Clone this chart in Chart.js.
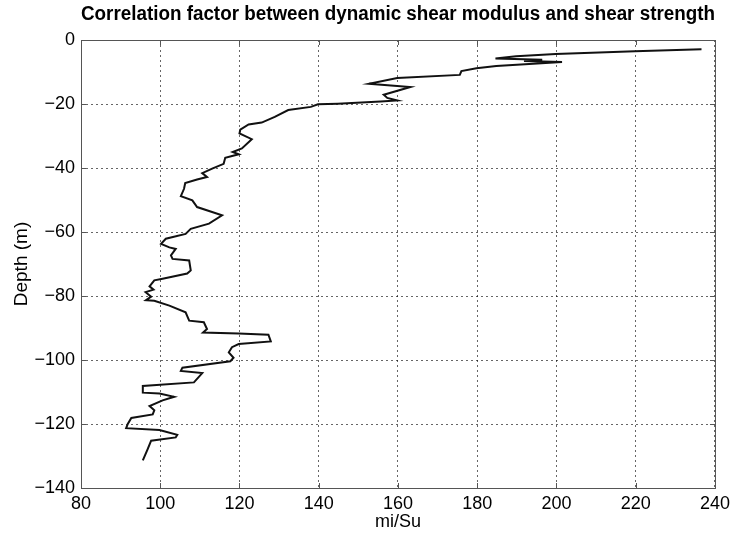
<!DOCTYPE html>
<html>
<head>
<meta charset="utf-8">
<script src="https://cdn.jsdelivr.net/npm/chart.js@4"></script>
<style>
  html, body { margin: 0; padding: 0; background: #fff; }
  #wrap { width: 735px; height: 533px; }
</style>
</head>
<body>
<div id="wrap"><canvas id="chart" width="735" height="533"></canvas></div>
<script>
// mi/Su values read along the profile, top to bottom
const ratio = [236.6, 219.8, 199.8, 189.8, 184.6, 196.4, 191.8, 201.4, 184.8, 179.8,
  176.0, 175.6, 159.8, 152.7, 163.1, 156.4, 157.3, 159.8, 155.6, 144.8,
  139.8, 138.0, 132.3, 128.9, 125.6, 122.3, 120.2, 120.0, 123.1, 120.6,
  118.3, 119.8, 116.4, 116.0, 113.1, 110.6, 111.8, 109.3, 106.3, 106.0,
  105.2, 108.1, 109.3, 115.6, 112.3, 107.7, 106.4, 101.4, 100.2, 102.3,
  103.9, 102.7, 103.1, 107.3, 107.7, 106.8, 100.6, 98.5, 97.3, 98.3,
  96.3, 97.7, 96.4, 98.5, 102.3, 106.4, 107.3, 111.0, 111.8, 110.8,
  119.8, 127.3, 127.9, 119.8, 118.1, 117.3, 118.5, 117.7, 105.6, 105.2,
  110.6, 108.5, 95.6, 95.6, 99.8, 103.5, 100.6, 97.3, 98.5, 98.1,
  92.7, 91.8, 91.4, 99.8, 104.3, 103.9, 97.7, 96.8, 95.6];

// depth (m) for each point above
const depth = [-2.9, -3.5, -4.4, -5.1, -5.8, -6.2, -6.6, -6.9, -8.1, -8.8,
  -9.7, -10.9, -11.9, -13.7, -14.7, -17.1, -18.1, -18.9, -19.2, -19.9,
  -20.1, -20.9, -21.9, -24.0, -25.8, -26.4, -28.0, -29.2, -31.0, -33.9,
  -35.0, -35.7, -36.8, -38.7, -40.2, -41.6, -42.8, -43.6, -44.7, -46.5,
  -48.8, -50.1, -52.2, -54.8, -57.4, -59.0, -60.6, -62.1, -63.7, -64.8,
  -65.3, -67.3, -68.4, -68.9, -72.0, -73.0, -74.6, -75.1, -77.0, -78.0,
  -78.8, -80.2, -81.3, -81.5, -83.0, -85.1, -87.7, -88.2, -90.3, -91.4,
  -91.7, -92.1, -94.2, -95.0, -96.0, -97.6, -99.3, -100.4, -102.4, -103.4,
  -104.1, -107.0, -108.1, -110.2, -110.5, -111.5, -112.6, -114.4, -115.7, -117.0,
  -118.1, -120.0, -121.3, -121.9, -123.4, -124.2, -125.2, -127.9, -131.4];

const xTicks = [80, 100, 120, 140, 160, 180, 200, 220, 240];
const yTicks = [0, -20, -40, -60, -80, -100, -120, -140];

const points = ratio.map((v, i) => ({ x: v, y: depth[i] }));
const FONT = 'Liberation Sans, Arial, Helvetica, sans-serif';

// frame around the plot plus small inward ticks, like the original figure
const frame = {
  id: 'frame',
  afterDraw(chart) {
    const { ctx, chartArea: a, scales } = chart;
    ctx.save();
    ctx.strokeStyle = '#555';
    ctx.lineWidth = 1;
    ctx.setLineDash([]);
    ctx.strokeRect(a.left + 0.5, a.top + 0.5, a.right - a.left, a.bottom - a.top);
    xTicks.forEach(t => {
      const px = Math.round(scales.x.getPixelForValue(t)) + 0.5;
      ctx.beginPath();
      ctx.moveTo(px, a.bottom); ctx.lineTo(px, a.bottom - 5);
      ctx.moveTo(px, a.top); ctx.lineTo(px, a.top + 5);
      ctx.stroke();
    });
    yTicks.forEach(t => {
      const py = Math.round(scales.y.getPixelForValue(t)) + 0.5;
      ctx.beginPath();
      ctx.moveTo(a.left, py); ctx.lineTo(a.left + 5, py);
      ctx.moveTo(a.right, py); ctx.lineTo(a.right - 5, py);
      ctx.stroke();
    });
    ctx.restore();
  }
};

new Chart(document.getElementById('chart'), {
  type: 'scatter',
  data: {
    datasets: [{
      data: points,
      showLine: true,
      borderColor: '#111',
      borderWidth: 2,
      pointRadius: 0,
      tension: 0
    }]
  },
  options: {
    responsive: false,
    animation: false,
    layout: { padding: { top: 0, right: 14, bottom: 0, left: 0 } },
    plugins: {
      legend: { display: false },
      tooltip: { enabled: false },
      title: {
        display: true,
        text: 'Correlation factor between dynamic shear modulus and shear strength',
        color: '#000',
        font: { family: FONT, size: 19.5, weight: 'bold' },
        fullSize: false,
        padding: { top: 3, bottom: 13.6 }
      }
    },
    scales: {
      x: {
        min: 80, max: 240,
        afterFit(scale) { scale.height = 45; },
        afterBuildTicks(scale) { scale.ticks = xTicks.map(v => ({ value: v })); },
        border: { display: false, dash: [2, 3] },
        grid: { color: 'rgba(0,0,0,0.6)', drawTicks: false, lineWidth: 1 },
        ticks: { color: '#000', font: { family: FONT, size: 18 }, padding: 5, maxRotation: 0 },
        title: { display: true, text: 'mi/Su', color: '#000', font: { family: FONT, size: 18 }, padding: { top: -4, bottom: 0 } }
      },
      y: {
        min: -140, max: 0,
        afterFit(scale) { scale.width = 81; },
        afterBuildTicks(scale) { scale.ticks = yTicks.map(v => ({ value: v })); },
        border: { display: false, dash: [2, 3] },
        grid: { color: 'rgba(0,0,0,0.6)', drawTicks: false, lineWidth: 1 },
        ticks: { color: '#000', font: { family: FONT, size: 18 }, padding: 6,
          callback: v => String(v).replace('-', '\u2212') },
        title: { display: true, text: 'Depth (m)', color: '#000', font: { family: FONT, size: 19 }, padding: { top: 10, bottom: 0 } }
      }
    }
  },
  plugins: [frame]
});
</script>
</body>
</html>
